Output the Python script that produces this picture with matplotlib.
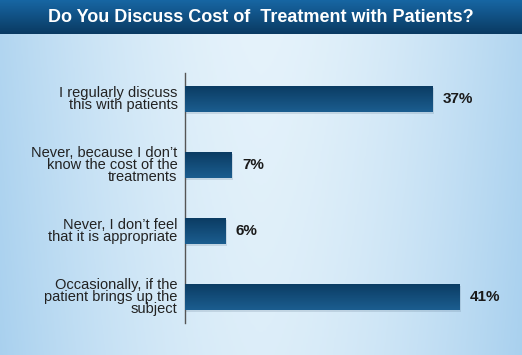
import matplotlib
matplotlib.use('Agg')
import matplotlib.pyplot as plt
from matplotlib.colors import LinearSegmentedColormap
import numpy as np

categories = [
    "I regularly discuss\nthis with patients",
    "Never, because I don\u2019t\nknow the cost of the\ntreatments",
    "Never, I don\u2019t feel\nthat it is appropriate",
    "Occasionally, if the\npatient brings up the\nsubject",
]
values = [37, 7, 6, 41]
value_labels = ["37%", "7%", "6%", "41%"]
title = "Do You Discuss Cost of  Treatment with Patients?"

FONT = ['Liberation Sans', 'DejaVu Sans']

W, H = 522, 355
fig = plt.figure(figsize=(W / 100, H / 100), dpi=100)

# background gradient, lighter in the middle
bg = fig.add_axes([0, 0, 1, 1])
xx = np.linspace(-1, 1, 300)
yy = np.linspace(0, 1, 200)
X, Y = np.meshgrid(xx, yy)
light = 1 - 0.8 * np.abs(X) ** 1.6 - 0.15 * Y
bg_cmap = LinearSegmentedColormap.from_list('bg', ['#a6cfee', '#e6f3fb'])
bg.imshow(light, cmap=bg_cmap, aspect='auto', extent=[0, 1, 0, 1],
          origin='upper', vmin=0, vmax=1)
bg.set_xlim(0, 1)
bg.set_ylim(0, 1)
bg.axis('off')

# title band
band_h = 34 / H
band_cmap = LinearSegmentedColormap.from_list('band', ['#0a3a62', '#1766a3'])
band = np.linspace(0, 1, 50).reshape(-1, 1)
bg.imshow(band, cmap=band_cmap, aspect='auto',
          extent=[0, 1, 1 - band_h, 1], origin='lower', zorder=2)
bg.text(0.5, 1 - band_h / 2, title, color='white', fontsize=13,
        fontweight='bold', family=FONT,
        ha='center', va='center', zorder=3)

# main chart
ax = fig.add_axes([185 / W, 32 / H, 337 / W, 250 / H])
ax.patch.set_alpha(0)
px_per_unit = 6.7
pad = 26 / 66

ypos = np.arange(len(values))
bar_h = 26 / 66
bar_cmap = LinearSegmentedColormap.from_list('bar', ['#0b3c63', '#1b5d8f'])
grad = np.linspace(0, 1, 50).reshape(-1, 1)

# soft shadow
ax.barh(ypos + 0.025, np.array(values) + 0.2, height=bar_h, color='#50687f',
        alpha=0.18, zorder=1)
bars = ax.barh(ypos, values, height=bar_h, color='#134a78', zorder=2)
for b in bars:
    x0, y0 = b.get_x(), b.get_y()
    im = ax.imshow(grad, cmap=bar_cmap, aspect='auto', origin='upper',
                   extent=[x0, x0 + b.get_width(), y0 + b.get_height(), y0],
                   zorder=3)
    im.set_clip_path(b)
ax.set_xlim(0, 337 / px_per_unit)
ax.set_ylim(len(values) - 1 + pad, -pad)

for y, v, lab in zip(ypos, values, value_labels):
    ax.text(v + 1.5, y, lab, va='center', ha='left', fontsize=11,
            fontweight='bold', color='#1a1a1a', family=FONT)

for y, lab in zip(ypos, categories):
    ax.text(-1.1, y, lab, va='center', ha='right', fontsize=10.5,
            color='#222222', linespacing=0.82, family=FONT)

for s in ['top', 'right', 'bottom']:
    ax.spines[s].set_visible(False)
ax.spines['left'].set_color('#555555')
ax.spines['left'].set_linewidth(1)
ax.set_xticks([])
ax.set_yticks([])

fig.savefig('out.png', dpi=100)
